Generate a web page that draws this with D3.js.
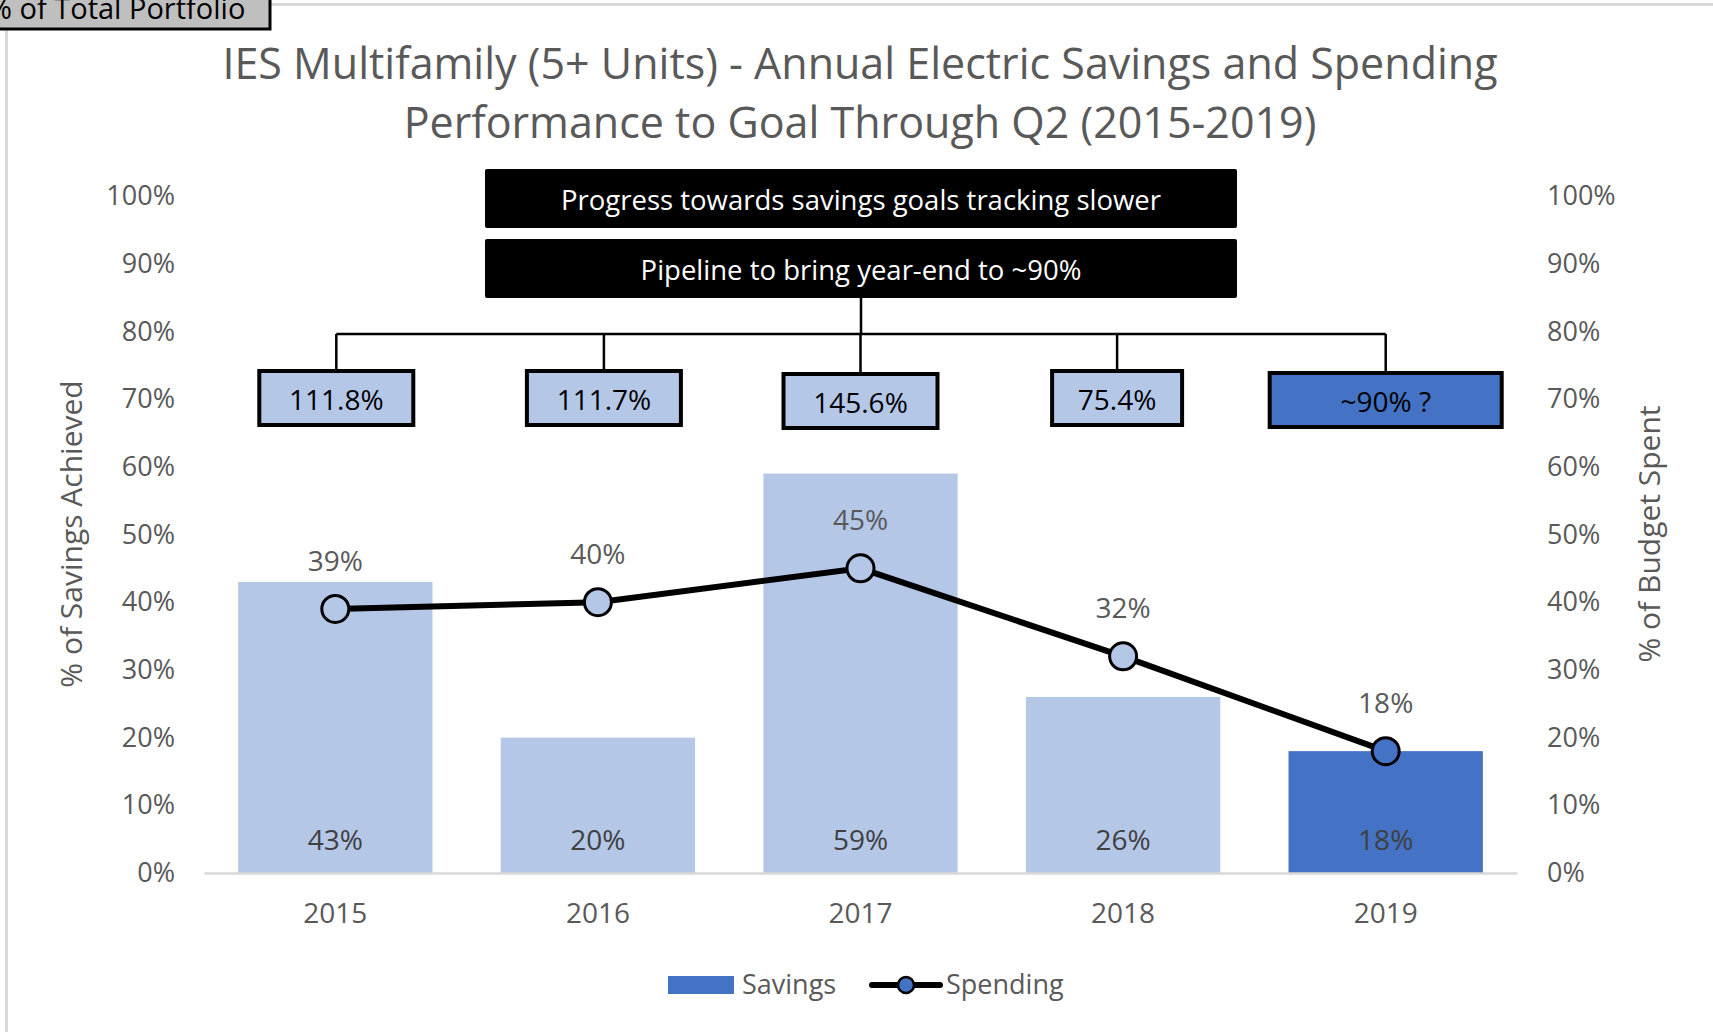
<!DOCTYPE html>
<html>
<head>
<meta charset="utf-8">
<script src="https://cdn.jsdelivr.net/npm/d3@7.9.0/dist/d3.min.js"></script>
<style>
  body { margin: 0; background: #fff; }
  svg { display: block; font-family: 'Open Sans', sans-serif; }
</style>
</head>
<body>
<div id="chart"></div>
<script>
// chart data
const years = ['2015', '2016', '2017', '2018', '2019'];
const savings = [43, 20, 59, 26, 18];
const spending = [39, 40, 45, 32, 18];
const goalLabels = ['111.8%', '111.7%', '145.6%', '75.4%', '~90% ?'];
const yTicks = [0, 10, 20, 30, 40, 50, 60, 70, 80, 90, 100];
const headlines = ['Progress towards savings goals tracking slower', 'Pipeline to bring year-end to ~90%'];

const width = 1713, height = 1032;
const light = '#b4c7e7', dark = '#4472c4', grey = '#595959';

const svg = d3.select('#chart').append('svg')
  .attr('width', width).attr('height', height);

const margin = { left: 204, right: width - 1517, top: 196, bottom: height - 873 };

const x = d3.scaleBand().domain(years)
  .range([margin.left, width - margin.right])
  .paddingInner(0.26).paddingOuter(0.13);
const y = d3.scaleLinear().domain([0, 100]).range([height - margin.bottom, margin.top]);

const isLast = (i) => i === years.length - 1;

// chart frame lines (top and left)
svg.append('line').attr('x1', 6).attr('x2', width).attr('y1', 4.5).attr('y2', 4.5)
  .attr('stroke', '#d9d9d9').attr('stroke-width', 3);
svg.append('line').attr('x1', 6.5).attr('x2', 6.5).attr('y1', 4).attr('y2', height)
  .attr('stroke', '#d9d9d9').attr('stroke-width', 3);

// "% of Total Portfolio" tab, cut off at top-left like the source
svg.append('rect').attr('x', -10).attr('y', -10).attr('width', 280).attr('height', 39)
  .attr('fill', '#bfbfbf').attr('stroke', '#000').attr('stroke-width', 3);
svg.append('text').attr('x', -12).attr('y', 19)
  .attr('font-size', 29).attr('fill', '#000').text('% of Total Portfolio');

// title
const title = svg.append('text').attr('text-anchor', 'middle').attr('fill', grey).attr('font-size', 43);
title.append('tspan').attr('x', 860).attr('y', 79).text('IES Multifamily (5+ Units) - Annual Electric Savings and Spending');
title.append('tspan').attr('x', 860).attr('y', 138).text('Performance  to Goal Through Q2 (2015-2019)');

// axes
const yLeft = svg.append('g').attr('transform', `translate(${margin.left - 26},0)`)
  .call(d3.axisLeft(y).tickValues(yTicks).tickFormat(d => d + '%').tickSize(0));
const yRight = svg.append('g').attr('transform', `translate(${width - margin.right + 27},0)`)
  .call(d3.axisRight(y).tickValues(yTicks).tickFormat(d => d + '%').tickSize(0));
[yLeft, yRight].forEach(g => {
  g.select('.domain').remove();
  g.selectAll('text').attr('font-size', 27).attr('fill', grey)
    .attr('font-family', "'Open Sans', sans-serif");
});

// bars
svg.append('g').selectAll('rect').data(savings).join('rect')
  .attr('x', (d, i) => x(years[i]))
  .attr('width', x.bandwidth())
  .attr('y', d => y(d))
  .attr('height', d => y(0) - y(d))
  .attr('fill', (d, i) => isLast(i) ? dark : light);

svg.append('g').selectAll('text').data(savings).join('text')
  .attr('x', (d, i) => x(years[i]) + x.bandwidth() / 2)
  .attr('y', y(0) - 33).attr('dy', '0.35em')
  .attr('text-anchor', 'middle').attr('font-size', 28).attr('fill', '#404040')
  .text(d => d + '%');

// x axis
const xAxis = svg.append('g').attr('transform', `translate(0,${y(0)})`)
  .call(d3.axisBottom(x).tickSize(0).tickPadding(30));
xAxis.select('.domain').attr('stroke', '#d9d9d9').attr('stroke-width', 2.5);
xAxis.selectAll('text').attr('font-size', 28).attr('fill', grey)
  .attr('font-family', "'Open Sans', sans-serif");

// spending line
const cx = (i) => x(years[i]) + x.bandwidth() / 2;
svg.append('path').datum(spending)
  .attr('d', d3.line().x((d, i) => cx(i)).y(d => y(d)))
  .attr('fill', 'none').attr('stroke', '#000').attr('stroke-width', 6);
svg.append('g').selectAll('circle').data(spending).join('circle')
  .attr('cx', (d, i) => cx(i)).attr('cy', d => y(d)).attr('r', 13.5)
  .attr('fill', (d, i) => isLast(i) ? dark : light)
  .attr('stroke', '#000').attr('stroke-width', 3);
svg.append('g').selectAll('text').data(spending).join('text')
  .attr('x', (d, i) => cx(i)).attr('y', d => y(d) - 48).attr('dy', '0.35em')
  .attr('text-anchor', 'middle').attr('font-size', 28).attr('fill', grey)
  .text(d => d + '%');

// axis titles
svg.append('text').attr('transform', 'translate(82,534) rotate(-90)')
  .attr('text-anchor', 'middle').attr('font-size', 30).attr('fill', grey)
  .text('% of Savings Achieved');
svg.append('text').attr('transform', 'translate(1660,534) rotate(-90)')
  .attr('text-anchor', 'middle').attr('font-size', 30).attr('fill', grey)
  .text('% of Budget Spent');

// headline boxes
const hx = 485, hw = 752;
headlines.forEach((t, i) => {
  const top = 169 + i * 70;
  svg.append('rect').attr('x', hx).attr('y', top).attr('width', hw).attr('height', 59)
    .attr('rx', 2).attr('fill', '#000');
  svg.append('text').attr('x', hx + hw / 2).attr('y', top + 31).attr('dy', '0.35em')
    .attr('text-anchor', 'middle').attr('font-size', 27.5).attr('fill', '#fff').text(t);
});

// connector tree
const boxWidths = [154, 154, 154, 130, 232];
const boxTop = [371, 371, 374, 371, 373];
const boxOffset = [1, 6, 0, -6, 0];
const busY = 334;
const bx = (i) => cx(i) + boxOffset[i];
const tree = svg.append('g').attr('stroke', '#000').attr('stroke-width', 2.5).attr('fill', 'none');
tree.append('line').attr('x1', hx + hw / 2).attr('x2', hx + hw / 2).attr('y1', 298).attr('y2', busY);
tree.append('line').attr('x1', bx(0)).attr('x2', bx(4)).attr('y1', busY).attr('y2', busY);
years.forEach((yr, i) => {
  tree.append('line').attr('x1', bx(i)).attr('x2', bx(i)).attr('y1', busY).attr('y2', boxTop[i]);
});

const boxes = svg.append('g').selectAll('g').data(goalLabels).join('g')
  .attr('transform', (d, i) => `translate(${bx(i)},${boxTop[i]})`);
boxes.append('rect')
  .attr('x', (d, i) => -boxWidths[i] / 2).attr('y', 0)
  .attr('width', (d, i) => boxWidths[i]).attr('height', 54)
  .attr('fill', (d, i) => isLast(i) ? dark : light)
  .attr('stroke', '#000').attr('stroke-width', 4);
boxes.append('text').attr('y', 29).attr('dy', '0.35em')
  .attr('text-anchor', 'middle').attr('font-size', 28).attr('fill', '#000')
  .text(d => d);

// legend
const lg = svg.append('g').attr('font-size', 27).attr('fill', grey);
lg.append('rect').attr('x', 668).attr('y', 976).attr('width', 66).attr('height', 18).attr('fill', dark);
lg.append('text').attr('x', 742).attr('y', 985).attr('dy', '0.35em').text('Savings');
lg.append('line').attr('x1', 872).attr('x2', 940).attr('y1', 985).attr('y2', 985)
  .attr('stroke', '#000').attr('stroke-width', 6).attr('stroke-linecap', 'round');
lg.append('circle').attr('cx', 906).attr('cy', 985).attr('r', 8)
  .attr('fill', dark).attr('stroke', '#000').attr('stroke-width', 2.5);
lg.append('text').attr('x', 946).attr('y', 985).attr('dy', '0.35em').text('Spending');
</script>
</body>
</html>
